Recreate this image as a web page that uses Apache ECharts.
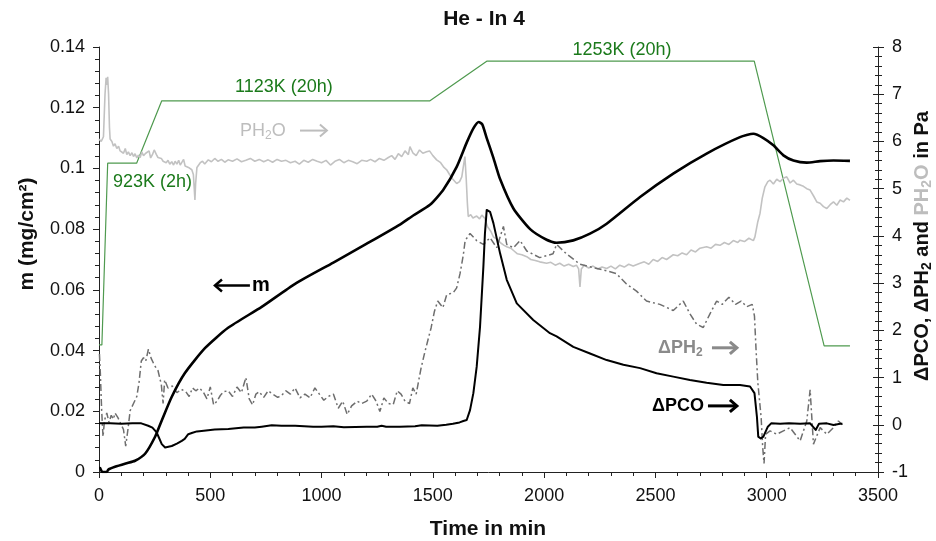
<!DOCTYPE html>
<html><head><meta charset="utf-8">
<script src="https://cdn.jsdelivr.net/npm/echarts@6/dist/echarts.min.js"></script>
<style>html,body{margin:0;padding:0;background:#fff}#c{width:936px;height:541px}</style>
</head><body><div id="c"></div>
<script>
// ---- data (time in min, value) ----
const massData = [[0,0.0013],[5,0.0013],[10,0.0005],[15,0],[35,0],[42,0.0008],[72,0.0017],[120,0.0028],[162,0.0037],[207,0.006],[252,0.0116],[282,0.017],[327,0.0248],[386,0.0326],[476,0.0408],[580,0.0475],[731,0.0544],[881,0.062],[1053,0.069],[1203,0.0752],[1352,0.0815],[1412,0.0845],[1487,0.088],[1547,0.093],[1607,0.1005],[1652,0.1085],[1682,0.1132],[1706,0.1153],[1722,0.1145],[1742,0.110],[1772,0.1035],[1802,0.0965],[1862,0.0868],[1937,0.080],[2011,0.0765],[2056,0.0755],[2131,0.0763],[2206,0.0785],[2281,0.0818],[2431,0.0906],[2580,0.0983],[2730,0.1049],[2880,0.1103],[2940,0.1114],[2985,0.110],[3030,0.1076],[3075,0.1043],[3120,0.1026],[3180,0.1019],[3240,0.1024],[3300,0.1026],[3374,0.1025]];

const tempData = [[0,1.69],[13,1.69],[39,5.54],[169,5.54],[282,6.86],[1487,6.86],[1742,7.70],[2944,7.70],[3258,1.67],[3374,1.67]];

const ph2oData = [[0,6.05],[10,6.0],[20,6.1],[27,7.0],[32,7.35],[36,7.2],[39,7.37],[43,7.0],[47,6.3],[50,6.05],[58,6.0],[65,5.9],[72,5.95],[80,5.85],[88,5.9],[95,5.8],[102,5.82],[110,5.75],[118,5.85],[125,5.72],[132,5.78],[140,5.7],[148,5.76],[155,5.68],[162,5.74],[170,5.65],[177,5.71],[185,5.66],[192,5.78],[200,5.7],[210,5.75],[218,5.72],[225,5.80],[232,5.65],[240,5.72],[248,5.82],[252,5.85],[258,5.72],[265,5.66],[272,5.62],[280,5.64],[288,5.58],[295,5.62],[302,5.55],[310,5.6],[318,5.52],[327,5.57],[335,5.50],[342,5.58],[350,5.52],[358,5.6],[365,5.5],[372,5.54],[380,5.62],[387,5.48],[395,5.52],[402,5.45],[410,5.42],[417,5.40],[424,5.3],[428,5.0],[431,4.76],[434,5.1],[440,5.45],[446,5.47],[455,5.55],[465,5.58],[475,5.52],[491,5.61],[505,5.57],[520,5.64],[535,5.58],[550,5.62],[565,5.56],[580,5.61],[600,5.58],[620,5.63],[640,5.57],[660,5.6],[680,5.64],[700,5.58],[720,5.62],[740,5.57],[760,5.61],[780,5.56],[800,5.62],[820,5.58],[840,5.6],[860,5.55],[881,5.58],[900,5.52],[920,5.6],[940,5.56],[960,5.62],[980,5.58],[1000,5.55],[1020,5.6],[1040,5.5],[1060,5.58],[1080,5.62],[1100,5.55],[1120,5.6],[1140,5.57],[1160,5.53],[1180,5.6],[1203,5.58],[1220,5.62],[1240,5.57],[1260,5.64],[1280,5.6],[1300,5.66],[1315,5.7],[1330,5.62],[1345,5.74],[1360,5.68],[1375,5.8],[1390,5.72],[1397,5.89],[1410,5.76],[1425,5.7],[1440,5.82],[1455,5.75],[1472,5.78],[1485,5.8],[1500,5.7],[1517,5.61],[1535,5.55],[1550,5.45],[1562,5.40],[1575,5.3],[1590,5.2],[1607,5.11],[1620,5.15],[1630,5.25],[1638,5.5],[1644,5.68],[1650,5.2],[1655,4.7],[1659,4.41],[1670,4.45],[1680,4.38],[1697,4.42],[1710,4.36],[1720,4.44],[1734,4.37],[1745,4.2],[1760,4.1],[1772,3.98],[1790,3.92],[1805,3.85],[1820,3.8],[1832,3.77],[1850,3.74],[1865,3.68],[1880,3.62],[1900,3.6],[1922,3.56],[1940,3.5],[1960,3.48],[1980,3.45],[2011,3.42],[2030,3.44],[2050,3.38],[2070,3.42],[2090,3.36],[2110,3.4],[2131,3.35],[2145,3.38],[2155,3.3],[2161,2.92],[2167,3.3],[2180,3.38],[2200,3.32],[2220,3.36],[2240,3.3],[2260,3.34],[2281,3.31],[2300,3.36],[2320,3.3],[2340,3.38],[2360,3.34],[2380,3.4],[2400,3.36],[2431,3.42],[2450,3.45],[2470,3.4],[2490,3.5],[2510,3.46],[2530,3.54],[2550,3.5],[2580,3.6],[2600,3.58],[2620,3.64],[2640,3.6],[2660,3.7],[2680,3.66],[2700,3.74],[2730,3.77],[2750,3.74],[2770,3.82],[2790,3.8],[2810,3.86],[2830,3.82],[2850,3.9],[2870,3.86],[2880,3.91],[2900,3.88],[2920,3.95],[2940,3.9],[2947,3.98],[2960,4.3],[2970,4.48],[2980,4.8],[2992,5.04],[3005,5.15],[3015,5.18],[3030,5.1],[3045,5.2],[3060,5.15],[3075,5.22],[3090,5.25],[3105,5.12],[3120,5.18],[3135,5.1],[3150,5.08],[3165,5.05],[3180,5.0],[3195,4.97],[3210,4.85],[3225,4.72],[3240,4.69],[3255,4.62],[3270,4.58],[3285,4.66],[3300,4.72],[3315,4.65],[3330,4.76],[3345,4.72],[3360,4.8],[3374,4.75]];

const dph2Data = [[2,1.5],[6,1.1],[12,0.3],[18,-0.25],[25,0.1],[35,0.25],[45,0.05],[55,0.2],[65,0.12],[72,0.25],[85,0.15],[100,0.0],[110,-0.1],[120,-0.45],[130,-0.1],[140,0.3],[155,0.45],[170,0.6],[180,0.9],[190,1.35],[200,1.42],[210,1.35],[222,1.6],[235,1.4],[250,1.25],[265,1.15],[280,0.85],[288,0.45],[295,0.95],[310,0.78],[330,0.82],[350,0.68],[370,0.75],[390,0.7],[405,0.6],[420,0.78],[435,0.72],[452,0.78],[470,0.68],[485,0.55],[500,0.8],[515,0.42],[530,0.5],[545,0.62],[560,0.7],[580,0.72],[600,0.6],[620,0.8],[640,0.68],[660,1.0],[675,0.55],[690,0.42],[705,0.65],[720,0.7],[740,0.58],[760,0.72],[780,0.65],[803,0.58],[820,0.62],[840,0.72],[860,0.65],[881,0.78],[903,0.57],[925,0.65],[948,0.57],[970,0.78],[990,0.65],[1010,0.52],[1030,0.6],[1053,0.65],[1075,0.35],[1095,0.5],[1115,0.22],[1135,0.4],[1160,0.5],[1180,0.45],[1203,0.5],[1225,0.65],[1245,0.5],[1262,0.28],[1280,0.57],[1300,0.45],[1322,0.43],[1340,0.72],[1357,0.65],[1375,0.5],[1395,0.45],[1410,0.78],[1425,0.65],[1437,0.95],[1447,1.2],[1462,1.5],[1477,1.78],[1492,2.05],[1507,2.4],[1522,2.62],[1545,2.48],[1562,2.75],[1592,2.8],[1607,2.9],[1622,3.2],[1637,3.6],[1645,3.9],[1667,4.05],[1697,3.9],[1727,3.82],[1757,3.96],[1787,3.75],[1817,4.2],[1832,3.82],[1862,3.75],[1892,3.9],[1922,3.68],[1980,3.54],[2040,3.62],[2056,3.82],[2100,3.62],[2161,3.4],[2220,3.33],[2281,3.26],[2325,3.2],[2370,2.98],[2415,2.83],[2460,2.62],[2520,2.55],[2580,2.42],[2625,2.62],[2655,2.35],[2685,2.13],[2715,2.06],[2745,2.35],[2775,2.62],[2800,2.55],[2830,2.7],[2860,2.55],[2885,2.62],[2910,2.5],[2935,2.55],[2945,2.3],[2952,1.6],[2960,0.9],[2968,0.5],[2975,0.15],[2982,-0.48],[2988,-0.82],[2995,-0.2],[3015,-0.13],[3045,-0.2],[3075,-0.13],[3105,-0.06],[3150,-0.34],[3180,0.08],[3195,0.74],[3210,-0.41],[3240,-0.06],[3270,-0.2],[3300,-0.06],[3322,0.08],[3340,0.0]];

const dpcoData = [[0,0.03],[50,0.03],[100,0.02],[150,0.03],[190,0.03],[221,-0.02],[240,-0.06],[259,-0.16],[270,-0.28],[282,-0.41],[297,-0.48],[327,-0.45],[350,-0.4],[372,-0.34],[385,-0.3],[401,-0.2],[420,-0.17],[440,-0.14],[461,-0.13],[520,-0.1],[581,-0.09],[650,-0.06],[700,-0.06],[731,-0.04],[776,-0.01],[820,-0.02],[881,-0.02],[962,-0.04],[1000,-0.04],[1053,-0.03],[1100,-0.05],[1203,-0.04],[1250,-0.04],[1270,-0.02],[1290,-0.04],[1352,-0.04],[1420,-0.03],[1450,-0.01],[1520,-0.02],[1560,0.0],[1590,0.02],[1620,0.05],[1637,0.08],[1652,0.1],[1667,0.31],[1682,0.67],[1697,1.23],[1712,2.08],[1727,3.35],[1734,4.05],[1742,4.55],[1757,4.51],[1772,4.27],[1802,3.63],[1832,3.07],[1877,2.57],[1951,2.22],[2026,1.94],[2056,1.87],[2131,1.65],[2206,1.51],[2281,1.37],[2356,1.27],[2431,1.2],[2505,1.09],[2580,1.02],[2655,0.95],[2730,0.89],[2805,0.84],[2880,0.84],[2925,0.81],[2945,0.67],[2956,0.17],[2962,-0.25],[2973,-0.29],[2985,-0.25],[3005,-0.04],[3020,0.03],[3060,0.02],[3100,0.03],[3150,0.02],[3195,0.03],[3220,-0.11],[3235,0.02],[3270,0.03],[3300,-0.005],[3330,0.02],[3340,0.02]];

const xRange = [0, 3500, 500];
const leftRange = [0, 0.14, 0.02];
const rightRange = [-1, 8, 1];

// annotation anchors in (time, right-axis) coordinates
const notes = [
  {t:63,  p:5.15, text:'923K (2h)', align:'left', color:'#1b7a1b', size:18, weight:'normal'},
  {t:831, p:7.15, text:'1123K (20h)', align:'center', color:'#1b7a1b', size:18, weight:'normal'},
  {t:2350,p:7.93, text:'1253K (20h)', align:'center', color:'#1b7a1b', size:18, weight:'normal'},
  {t:634, p:6.23, text:'{n|PH}{s|2}{n|O}', align:'left', color:'#bdbdbd', size:18, weight:'normal'},
  {t:687, p:2.95, text:'m', align:'left', color:'#000', size:20, weight:'bold'},
  {t:2512,p:1.63, text:'{n|ΔPH}{s|2}', align:'left', color:'#8a8a8a', size:18, weight:'bold'},
  {t:2485,p:0.40, text:'ΔPCO', align:'left', color:'#000', size:18, weight:'bold'}
];
const arrows = [
  {t1:903, t2:1024, p:6.23, color:'#bdbdbd', w:2},
  {t1:678, t2:521,  p:2.95, color:'#000', w:2.5},
  {t1:2754,t2:2866, p:1.63, color:'#8a8a8a', w:3},
  {t1:2736,t2:2866, p:0.40, color:'#000', w:3}
];

const FONT = '"Liberation Sans", Arial, "DejaVu Sans", sans-serif';
const chart = echarts.init(document.getElementById('c'), null, {renderer:'canvas'});
const plain = v => String(Math.round(v * 1000) / 1000);

function yAx(r, pos, extra) {
  return Object.assign({
    type:'value', position:pos, min:r[0], max:r[1], interval:r[2],
    splitLine:{show:false},
    axisLine:{show:true, lineStyle:{color:'#222', width:1}},
    axisTick:{show:true, length:6, lineStyle:{color:'#222'}},
    minorTick:{show:true, splitNumber:5, length:4, lineStyle:{color:'#222'}},
    axisLabel:{fontSize:18, color:'#111', fontFamily:FONT, margin:14, formatter:plain}
  }, extra || {});
}

const option = {
  animation:false,
  backgroundColor:'#fff',
  grid:{left:99, right:58, top:47, bottom:69, containLabel:false, outerBoundsMode:'none'},
  xAxis:{
    type:'value', min:xRange[0], max:xRange[1], interval:xRange[2],
    splitLine:{show:false},
    axisLine:{show:true, onZero:false, lineStyle:{color:'#222', width:1}},
    axisTick:{show:true, length:6, lineStyle:{color:'#222'}},
    minorTick:{show:true, splitNumber:5, length:4, lineStyle:{color:'#222'}},
    axisLabel:{fontSize:18, color:'#111', fontFamily:FONT, margin:15, formatter:plain}
  },
  yAxis:[
    yAx(leftRange, 'left'),
    yAx(rightRange, 'right', {axisLabel:{fontSize:18, color:'#111', fontFamily:FONT, margin:14, formatter:plain}}),
    yAx(rightRange, 'right', {axisLine:{show:false}, axisLabel:{show:false},
      axisTick:{show:true, inside:true, length:5, lineStyle:{color:'#222'}},
      minorTick:{show:true, splitNumber:5, length:3, lineStyle:{color:'#222'}}})
  ],
  series:[
    {type:'line', name:'T', yAxisIndex:1, data:tempData, symbol:'none', lineStyle:{color:'#4f9a4f', width:1.2}, z:1},
    {type:'line', name:'PH2O', yAxisIndex:1, data:ph2oData, symbol:'none', lineStyle:{color:'#c2c2c2', width:1.6}, z:2},
    {type:'line', name:'dPH2', yAxisIndex:1, data:dph2Data, symbol:'none', lineStyle:{color:'#6e6e6e', width:1.5, type:[7,3,2,3]}, z:3},
    {type:'line', name:'dPCO', yAxisIndex:1, data:dpcoData, symbol:'none', lineStyle:{color:'#000', width:2, join:'round'}, z:4},
    {type:'line', name:'m', yAxisIndex:0, data:massData, symbol:'none', smooth:0.2, lineStyle:{color:'#000', width:2.6, join:'round'}, z:5}
  ]
};
chart.setOption(option);

const g = [];
const px = (t,p) => chart.convertToPixel({xAxisIndex:0, yAxisIndex:1}, [t,p]);
notes.forEach(n => {
  const [x,y] = px(n.t, n.p);
  g.push({type:'text', x:x, y:y, z:50, style:{
    text:n.text, fill:n.color,
    fontSize:n.size, fontWeight:n.weight, fontFamily:FONT,
    textAlign:n.align, textVerticalAlign:'middle', verticalAlign:'middle',
    rich:{
      n:{fontSize:n.size, fontWeight:n.weight, fontFamily:FONT, fill:n.color, color:n.color, lineHeight:22},
      s:{fontSize:Math.round(n.size*0.68), fontWeight:n.weight, fontFamily:FONT, fill:n.color, color:n.color, lineHeight:12, verticalAlign:'bottom'}
    }
  }});
});
arrows.forEach(a => {
  const [x1,y] = px(a.t1, a.p);
  const [x2] = px(a.t2, a.p);
  const d = x2 > x1 ? 1 : -1;
  g.push({type:'line', z:50, shape:{x1:x1, y1:y, x2:x2 - d*1, y2:y}, style:{stroke:a.color, lineWidth:a.w}});
  g.push({type:'polyline', z:50, shape:{points:[[x2 - d*7, y-6],[x2, y],[x2 - d*7, y+6]]}, style:{stroke:a.color, lineWidth:a.w, fill:null}});
});
// titles
g.push({type:'text', x:484, y:19, style:{text:'He - In 4', fontSize:21, fontWeight:'bold', fontFamily:FONT, fill:'#111', textAlign:'center', textVerticalAlign:'middle', verticalAlign:'middle'}});
g.push({type:'text', x:488, y:529, style:{text:'Time in min', fontSize:21, fontWeight:'bold', fontFamily:FONT, fill:'#111', textAlign:'center', textVerticalAlign:'middle', verticalAlign:'middle'}});
g.push({type:'text', x:27, y:234, rotation:Math.PI/2, style:{text:'m (mg/cm²)', fontSize:21, fontWeight:'bold', fontFamily:FONT, fill:'#111', textAlign:'center', textVerticalAlign:'middle', verticalAlign:'middle'}});
g.push({type:'text', x:922, y:246, rotation:Math.PI/2, style:{
  text:'{n|ΔPCO, ΔPH}{s|2}{n| and }{g|PH}{gs|2}{g|O}{n| in Pa}',
  textAlign:'center', textVerticalAlign:'middle', verticalAlign:'middle',
  rich:{
    n:{fontSize:20, fontWeight:'bold', fontFamily:FONT, fill:'#111', color:'#111', lineHeight:24},
    s:{fontSize:14, fontWeight:'bold', fontFamily:FONT, fill:'#111', color:'#111', lineHeight:14, verticalAlign:'bottom'},
    g:{fontSize:20, fontWeight:'bold', fontFamily:FONT, fill:'#bdbdbd', color:'#bdbdbd', lineHeight:24},
    gs:{fontSize:14, fontWeight:'bold', fontFamily:FONT, fill:'#bdbdbd', color:'#bdbdbd', lineHeight:14, verticalAlign:'bottom'}
  }}});
chart.setOption({graphic:{elements:g}});
</script>
</body></html>
